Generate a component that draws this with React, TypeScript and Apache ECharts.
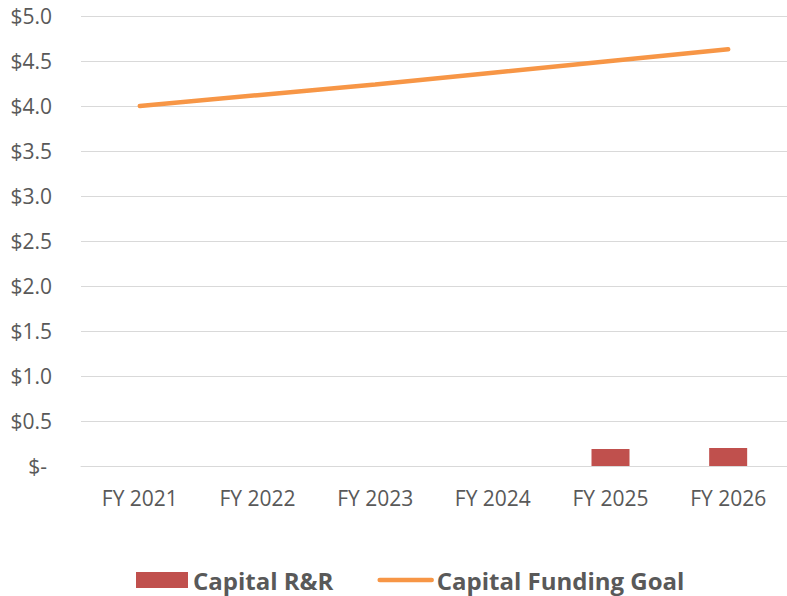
import React, { useEffect, useRef } from "react";
import * as echarts from "echarts";

const categories = ["FY 2021", "FY 2022", "FY 2023", "FY 2024", "FY 2025", "FY 2026"];
const capitalRR = [null, null, null, null, 0.19, 0.2];
const fundingGoal = [4.0, 4.12, 4.24, 4.37, 4.5, 4.63];

export default function App() {
  const ref = useRef<HTMLDivElement>(null);
  useEffect(() => {
    const chart = echarts.init(ref.current!, null, { renderer: "svg" });
    const font = "'Open Sans', 'Liberation Sans', sans-serif";
    chart.setOption({
      animation: false,
      textStyle: { fontFamily: font },
      grid: { left: 81, width: 709, top: 16, height: 450, containLabel: false },
      legend: {
        top: 568,
        left: 136,
        padding: 0,
        itemGap: 44,
        itemWidth: 52,
        itemHeight: 16,
        textStyle: { fontSize: 24, lineHeight: 24, fontWeight: "bold", color: "#595959", fontFamily: font },
        data: [
          { name: "Capital R&R", icon: "rect" },
          {
            name: "Capital Funding Goal",
            itemStyle: { opacity: 0 },
            lineStyle: { width: 4.5, cap: "round", color: "#F79646" },
          },
        ],
      },
      xAxis: {
        type: "category",
        data: categories,
        axisLine: { lineStyle: { color: "#D9D9D9", width: 1 } },
        axisTick: { show: false },
        axisLabel: { fontSize: 21, color: "#595959", margin: 21 },
      },
      yAxis: {
        type: "value",
        min: 0,
        max: 5,
        interval: 0.5,
        axisLine: { show: false },
        axisTick: { show: false },
        splitLine: { lineStyle: { color: "#D9D9D9", width: 1 } },
        axisLabel: {
          fontSize: 21,
          color: "#595959",
          margin: 29,
          formatter: (v: number) => (v === 0 ? "{z|$-}" : "$" + v.toFixed(1)),
          rich: {
            z: { fontSize: 21, color: "#595959", fontFamily: font, padding: [0, 5, 0, 0] },
          },
        },
      },
      series: [
        {
          name: "Capital R&R",
          type: "bar",
          data: capitalRR,
          barWidth: 38,
          itemStyle: { color: "#C0504D" },
        },
        {
          name: "Capital Funding Goal",
          type: "line",
          data: fundingGoal,
          symbol: "none",
          lineStyle: { color: "#F79646", width: 4.5, cap: "round" },
          itemStyle: { color: "#F79646" },
        },
      ],
    });
    return () => chart.dispose();
  }, []);
  return (
    <div
      ref={ref}
      style={{ position: "fixed", left: 0, top: 0, width: 787, height: 596, background: "#fff" }}
    />
  );
}
